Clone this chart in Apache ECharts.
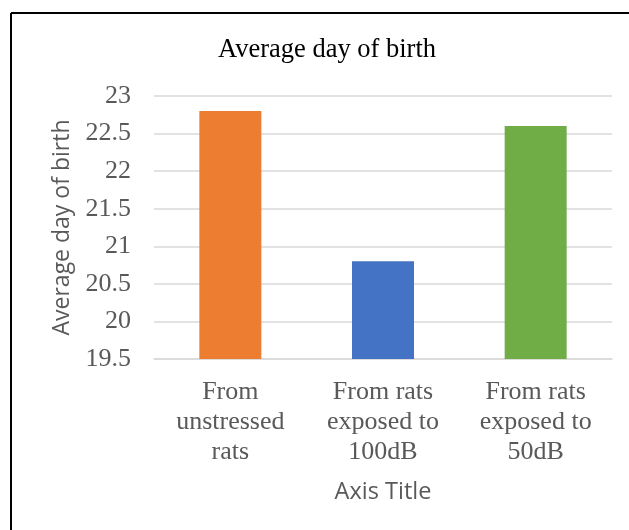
<!DOCTYPE html>
<html><head><meta charset="utf-8">
<script src="https://cdn.jsdelivr.net/npm/echarts@6/dist/echarts.min.js"></script>
<style>html,body{margin:0;padding:0;background:#fff}#c{width:629px;height:530px}</style>
</head><body><div id="c"></div>
<script>
const categories = ['From\nunstressed\nrats', 'From rats\nexposed to\n100dB', 'From rats\nexposed to\n50dB'];
const values = [22.8, 20.8, 22.6];
const colors = ['#ED7D31', '#4472C4', '#70AD47'];
const yTicks = [19.5, 20, 20.5, 21, 21.5, 22, 22.5, 23];

const chart = echarts.init(document.getElementById('c'), null, {renderer: 'canvas'});
chart.setOption({
  animation: false,
  backgroundColor: '#fff',
  title: {
    text: 'Average day of birth', left: 326, top: 32, textAlign: 'center',
    textStyle: {fontFamily: 'Liberation Serif', fontSize: 26.5, fontWeight: 'normal', color: '#000'}
  },
  graphic: [
    {type: 'line', shape: {x1: 11, y1: 13, x2: 629, y2: 13}, style: {stroke: '#000', lineWidth: 2}},
    {type: 'line', shape: {x1: 11, y1: 13, x2: 11, y2: 530}, style: {stroke: '#000', lineWidth: 2}}
  ],
  grid: {left: 154, right: 17, top: 96, bottom: 171},
  xAxis: {
    type: 'category', data: categories,
    axisLine: {lineStyle: {color: '#d9d9d9', width: 1.5}},
    axisTick: {show: false},
    axisLabel: {fontFamily: 'Liberation Serif', fontSize: 26, color: '#595959', lineHeight: 30, margin: 18},
    name: 'Axis Title', nameLocation: 'middle', nameGap: 121,
    nameTextStyle: {fontFamily: 'Open Sans', fontSize: 23.5, color: '#595959'}
  },
  yAxis: {
    type: 'value', min: yTicks[0], max: yTicks[yTicks.length - 1], interval: 0.5,
    axisLine: {show: false}, axisTick: {show: false},
    splitLine: {lineStyle: {color: '#d9d9d9', width: 1.5}},
    axisLabel: {fontFamily: 'Liberation Serif', fontSize: 26, color: '#595959', margin: 23},
    name: 'Average day of birth', nameLocation: 'middle', nameGap: 80,
    nameTextStyle: {fontFamily: 'Open Sans', fontSize: 23, color: '#595959'}
  },
  series: [{
    type: 'bar', barWidth: 62,
    data: values.map((v, i) => ({value: v, itemStyle: {color: colors[i]}}))
  }]
});
chart.setOption({title: {left: 322}});
</script></body></html>
